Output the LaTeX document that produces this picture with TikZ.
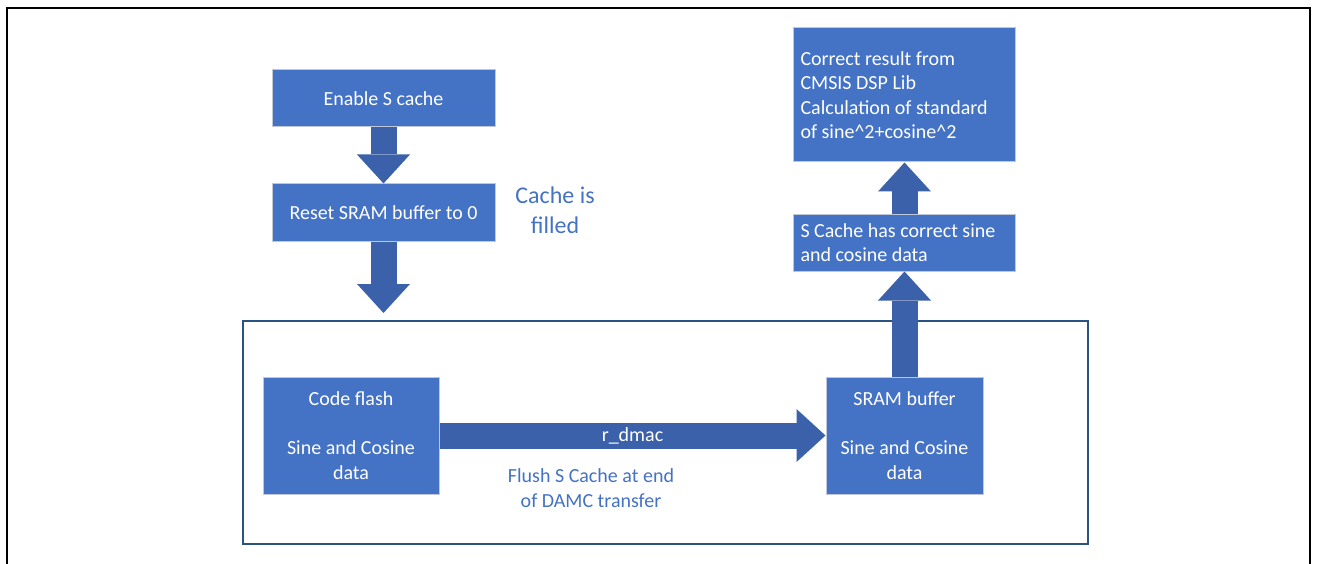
\documentclass[tikz,border=0pt]{standalone}
\usepackage{fontspec}
\setmainfont{Carlito}
\usepackage{tikz}
\usetikzlibrary{positioning}
\usetikzlibrary{arrows.meta}

\definecolor{boxBlue}{RGB}{68,114,196}
\definecolor{arrowBlue}{RGB}{59,97,170}
\definecolor{frameBlue}{RGB}{44,82,130}
\definecolor{edgeGray}{RGB}{190,200,216}

\tikzset{
  blueRect/.style={rectangle,draw=edgeGray,fill=boxBlue,text=white,line width=1pt,inner sep=0pt,align=center,font=\fontsize{20}{24.5}\selectfont},
  blueRectLeft/.style={blueRect,align=flush left,text width=208pt,inner xsep=7pt},
  blockArrow/.style={draw=arrowBlue,line width=26pt,-{Triangle[width=53pt,length=29pt,line width=0pt]}},
  noteText/.style={text=boxBlue,align=center,inner sep=0pt}
}

\begin{document}
\begin{tikzpicture}[x=1pt,y=-1pt]
        \useasboundingbox (0,0) rectangle (1319,564);
        \draw[line width=2pt] (7,564) -- (7,8) -- (1310,8) -- (1310,564);

        \node (rectEnable) at (383.5,98.5) [blueRect,minimum width=223pt,minimum height=57pt] {Enable S cache};
        \node[below=56pt of rectEnable] (rectReset) [blueRect,minimum width=223pt,minimum height=57pt] {Reset SRAM buffer to 0};
        \coordinate (resetEnd) at (383.5,313);
        \draw[blockArrow] (rectEnable) -- (rectReset);
        \draw[blockArrow] (rectReset) -- (resetEnd);
        \node (noteCache) at (555,210) [noteText,font=\fontsize{24}{30}\selectfont] {Cache is\\filled};

        \node (rectDMAC) at (665.5,432.5) [draw=frameBlue,line width=2.5pt,minimum width=845pt,minimum height=223pt] {};
        \node (rectCodeFlash) at (351,435.5) [blueRect,minimum width=176pt,minimum height=117pt] {Code flash\\[24.5pt]Sine and Cosine\\data};
        \node[right=386pt of rectCodeFlash] (rectSRAM) [blueRect,minimum width=157pt,minimum height=117pt] {SRAM buffer\\[24.5pt]Sine and Cosine\\data};
        \draw[blockArrow] (rectCodeFlash) -- (rectSRAM) node[midway,text=white,font=\fontsize{20}{24.5}\selectfont] (lblDmac) {r\_dmac};
        \node (noteFlush) at (591,488.5) [noteText,font=\fontsize{20}{25}\selectfont] {Flush S Cache at end\\of DAMC transfer};

        \node[above=105pt of rectSRAM] (rectSCache) [blueRectLeft,minimum height=57pt] {S Cache has correct sine\\and cosine data};
        \node[above=51pt of rectSCache] (rectResult) [blueRectLeft,minimum height=134pt] {Correct result from\\CMSIS DSP Lib\\Calculation of standard\\of sine\^{}2+cosine\^{}2};
        \draw[blockArrow] (rectSRAM) -- (rectSCache);
        \draw[blockArrow] (rectSCache) -- (rectResult);

    \end{tikzpicture}
\end{document}
